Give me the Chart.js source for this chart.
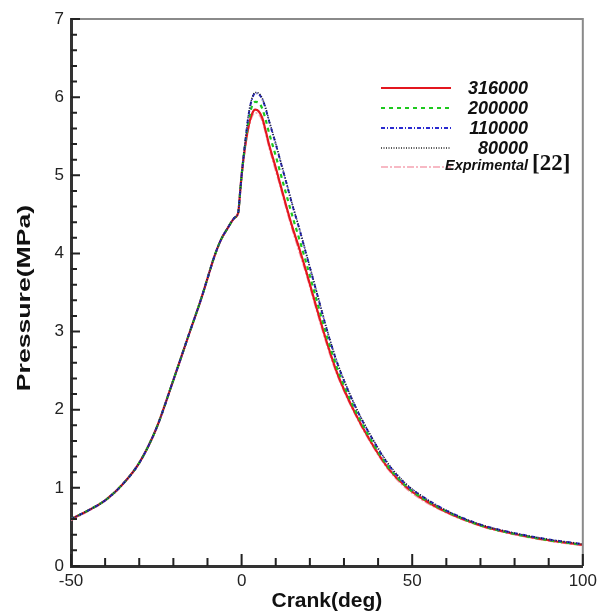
<!DOCTYPE html>
<html>
<head>
<meta charset="utf-8">
<script src="https://cdn.jsdelivr.net/npm/chart.js@4/dist/chart.umd.min.js"></script>
<style>
  html, body { margin: 0; padding: 0; background: #fff; }
  #wrap { width: 602px; height: 614px; position: relative; }
</style>
</head>
<body>
<div id="wrap"><canvas id="c" width="602" height="614"></canvas></div>
<script>
// ---- data ----
const crank = [-50,-45,-40,-35,-30,-25,-20,-15,-12,-10,-8,-6,-4,-2,-1,-0.5,0,1,2,3,4,5,6,7,8,10,11,13,15,17,19,22,25,28,33,38,43,48,53,60,70,80,90,100];
const rising = [0.60,0.71,0.84,1.04,1.32,1.76,2.38,3.02,3.40,3.68,3.96,4.18,4.33,4.46,4.52,4.75];
const p316000 = rising.concat([5.00,5.36,5.62,5.78,5.84,5.82,5.74,5.58,5.40,5.10,4.94,4.62,4.32,4.05,3.76,3.30,2.86,2.47,1.98,1.58,1.25,1.02,0.86,0.69,0.52,0.41,0.33,0.27]);
const p200000 = rising.concat([5.00,5.38,5.68,5.88,5.94,5.93,5.86,5.72,5.55,5.25,5.09,4.77,4.46,4.17,3.87,3.40,2.94,2.53,2.02,1.61,1.27,1.03,0.87,0.70,0.52,0.41,0.33,0.27]);
const p110000 = rising.concat([5.00,5.40,5.76,5.97,6.05,6.04,5.98,5.86,5.70,5.40,5.24,4.92,4.60,4.30,3.98,3.50,3.02,2.60,2.07,1.65,1.30,1.05,0.89,0.71,0.53,0.42,0.34,0.28]);
const p80000  = rising.concat([5.00,5.41,5.77,5.98,6.06,6.05,5.99,5.87,5.71,5.41,5.25,4.93,4.61,4.31,3.99,3.51,3.03,2.61,2.08,1.66,1.31,1.06,0.89,0.71,0.53,0.42,0.34,0.28]);
const pExp    = [0.58,0.70,0.83,1.03,1.31,1.75,2.37,3.01,3.39,3.67,3.95,4.17,4.32,4.45,4.51,4.72,4.95,5.32,5.58,5.74,5.80,5.78,5.70,5.54,5.36,5.05,4.90,4.58,4.28,4.00,3.72,3.26,2.82,2.44,1.96,1.56,1.23,1.00,0.84,0.68,0.51,0.40,0.32,0.26];
const seriesLabels = ['316000','200000','110000','80000','Exprimental'];
const legendSuffix = ['','','','','[22]'];
const xMajorTicks = [-50,0,50,100];
const xMinorTicks = [-40,-30,-20,-10,10,20,30,40,60,70,80,90];
const yMajorTicks = [0,1,2,3,4,5,6,7];
const yMinorStep = 0.2;

const pts = arr => crank.map((x, i) => ({x: x, y: arr[i]}));

const styles = [
  {borderColor:'#e3171f', borderWidth:2.2, borderDash:[], order:3},
  {borderColor:'#1ec81e', borderWidth:2.2, borderDash:[4,4], order:2},
  {borderColor:'#2a2ad0', borderWidth:2, borderDash:[4,2,1,2], order:1},
  {borderColor:'#222222', borderWidth:1.5, borderDash:[1,1.5], order:0},
  {borderColor:'rgba(240,130,150,0.75)', borderWidth:1.5, borderDash:[7,2,2,2], order:4}
];
const values = [p316000, p200000, p110000, p80000, pExp];

const datasets = values.map((v, i) => Object.assign({
  label: seriesLabels[i],
  data: pts(v),
  pointRadius: 0,
  fill: false,
  cubicInterpolationMode: 'monotone'
}, styles[i]));

// ---- plugins ----
const decor = {
  id: 'decor',
  afterDraw(chart) {
    const ctx = chart.ctx, a = chart.chartArea;
    const xs = chart.scales.x, ys = chart.scales.y;
    ctx.save();
    // top/right frame
    ctx.strokeStyle = '#8a8a8a'; ctx.lineWidth = 2;
    ctx.beginPath();
    ctx.moveTo(a.left, a.top); ctx.lineTo(a.right, a.top); ctx.lineTo(a.right, a.bottom);
    ctx.stroke();
    // inward ticks
    ctx.strokeStyle = '#222'; ctx.lineWidth = 2;
    ctx.beginPath();
    xMajorTicks.forEach(v => { const px = xs.getPixelForValue(v); ctx.moveTo(px, a.bottom); ctx.lineTo(px, a.bottom - 12); });
    xMinorTicks.forEach(v => { const px = xs.getPixelForValue(v); ctx.moveTo(px, a.bottom); ctx.lineTo(px, a.bottom - 8); });
    yMajorTicks.forEach(v => { const py = ys.getPixelForValue(v); ctx.moveTo(a.left, py); ctx.lineTo(a.left + 9, py); });
    for (let k = 1; k < 35; k++) {
      if (k % 5 === 0) continue;
      const py = ys.getPixelForValue(k * yMinorStep);
      ctx.moveTo(a.left, py); ctx.lineTo(a.left + 6, py);
    }
    ctx.stroke();
    // y title (stretched like the reference)
    ctx.translate(25, 298);
    ctx.rotate(-Math.PI / 2);
    ctx.scale(1.4, 1);
    ctx.fillStyle = '#111';
    ctx.font = 'bold 19px "Liberation Sans", Arial, sans-serif';
    ctx.textAlign = 'center'; ctx.textBaseline = 'middle';
    ctx.fillText('Pressure(MPa)', 0, 0);
    ctx.restore();

    // legend
    ctx.save();
    const lineX0 = 381, lineX1 = 451, textRight = 528;
    const rows = [88, 108, 128, 148, 167];
    chart.data.datasets.forEach((ds, i) => {
      ctx.strokeStyle = ds.borderColor; ctx.lineWidth = ds.borderWidth;
      ctx.setLineDash(ds.borderDash || []);
      ctx.beginPath(); ctx.moveTo(lineX0, rows[i]); ctx.lineTo(lineX1, rows[i]); ctx.stroke();
      ctx.setLineDash([]);
      ctx.fillStyle = '#111';
      ctx.textAlign = 'right'; ctx.textBaseline = 'alphabetic';
      if (i === 4) {
        ctx.font = 'italic bold 14.5px "Liberation Sans", Arial, sans-serif';
        ctx.fillText(ds.label, textRight, rows[i] + 3);
        ctx.textAlign = 'left';
        ctx.font = 'bold 23px "Liberation Serif", "Times New Roman", serif';
        ctx.fillText(legendSuffix[i], textRight + 4, rows[i] + 3);
      } else {
        ctx.font = 'italic bold 18px "Liberation Sans", Arial, sans-serif';
        ctx.fillText(ds.label, textRight, rows[i] + 6);
      }
    });
    ctx.restore();
  }
};

new Chart(document.getElementById('c'), {
  type: 'line',
  data: { datasets: datasets },
  options: {
    responsive: false,
    animation: false,
    events: [],
    layout: { padding: { top: 19, right: 16, left: 0, bottom: 0 } },
    plugins: { legend: { display: false }, tooltip: { enabled: false } },
    scales: {
      x: {
        type: 'linear', min: -50, max: 100,
        afterFit: s => { s.height = 48; },
        afterBuildTicks: s => { s.ticks = xMajorTicks.map(v => ({value: v})); },
        grid: { display: false, drawTicks: false },
        border: { display: true, color: '#333', width: 3 },
        ticks: { color: '#222', padding: 5, font: { family: '"Liberation Sans", Arial, sans-serif', size: 17 }, maxRotation: 0, autoSkip: false },
        title: { display: true, text: 'Crank(deg)', color: '#111', padding: { top: 0, bottom: 0 }, font: { family: '"Liberation Sans", Arial, sans-serif', size: 21, weight: 'bold' } }
      },
      y: {
        type: 'linear', min: 0, max: 7,
        afterFit: s => { s.width = 71; },
        afterBuildTicks: s => { s.ticks = yMajorTicks.map(v => ({value: v})); },
        grid: { display: false, drawTicks: false },
        border: { display: true, color: '#333', width: 3 },
        ticks: { color: '#222', padding: 7, font: { family: '"Liberation Sans", Arial, sans-serif', size: 17 } }
      }
    }
  },
  plugins: [decor]
});
</script>
</body>
</html>
